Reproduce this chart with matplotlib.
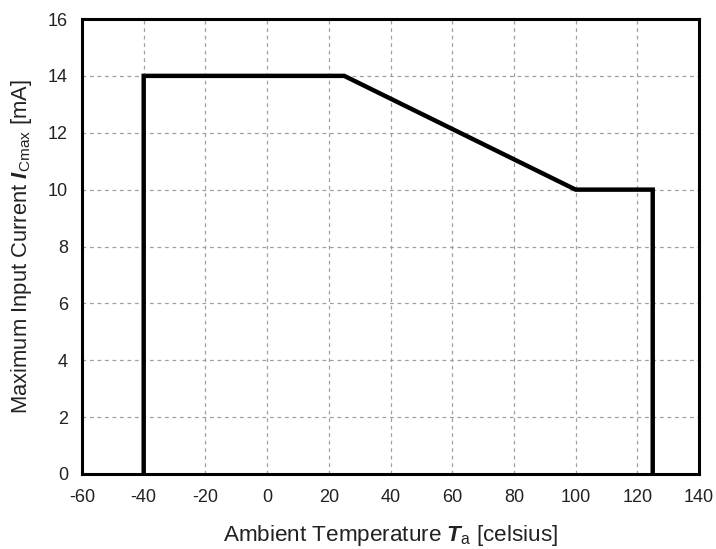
import matplotlib
matplotlib.use("Agg")
import matplotlib.pyplot as plt

temperature = [-40, -40, 25, 100, 125, 125]
current_ma = [0, 14, 14, 10, 10, 0]
x_ticks = list(range(-60, 141, 20))
y_ticks = list(range(0, 17, 2))

plt.rcParams['font.family'] = ['Liberation Sans', 'DejaVu Sans']
plt.rcParams['axes.unicode_minus'] = False
plt.rcParams['mathtext.fontset'] = 'custom'
plt.rcParams['mathtext.rm'] = 'Liberation Sans'
plt.rcParams['mathtext.it'] = 'Liberation Sans:italic'
plt.rcParams['mathtext.bf'] = 'Liberation Sans:bold'
plt.rcParams['mathtext.bfit'] = 'Liberation Sans:italic:bold'

fig = plt.figure(figsize=(7.16, 5.49), dpi=100)
ax = fig.add_axes([82/716, 1-474/549, (699-82)/716, (474-19)/549])

ax.plot(temperature, current_ma, color='black', lw=3.2, solid_joinstyle='miter', zorder=3)

ax.set_xlim(-60, 140)
ax.set_ylim(0, 16)
ax.set_xticks(x_ticks)
ax.set_yticks(y_ticks)
ax.grid(True, color='#a0a0a0', linestyle=(0, (3, 3)), lw=0.9)
for s in ax.spines.values():
    s.set_linewidth(2.2)
    s.set_color('black')
ax.tick_params(length=0, labelsize=13, colors='#222222')
ax.tick_params(axis='x', pad=11)
ax.tick_params(axis='y', pad=10)

ax.set_xlabel(r'Ambient Temperature $\mathbfit{T}_{\mathrm{a}}$ [celsius]', fontsize=16.2, labelpad=12, color='#222222')
ax.set_ylabel(r'Maximum Input Current $\mathbfit{I}_{\mathrm{Cmax}}$ [mA]', fontsize=15.8, labelpad=10, color='#222222')

fig.savefig('out.png', dpi=100)
